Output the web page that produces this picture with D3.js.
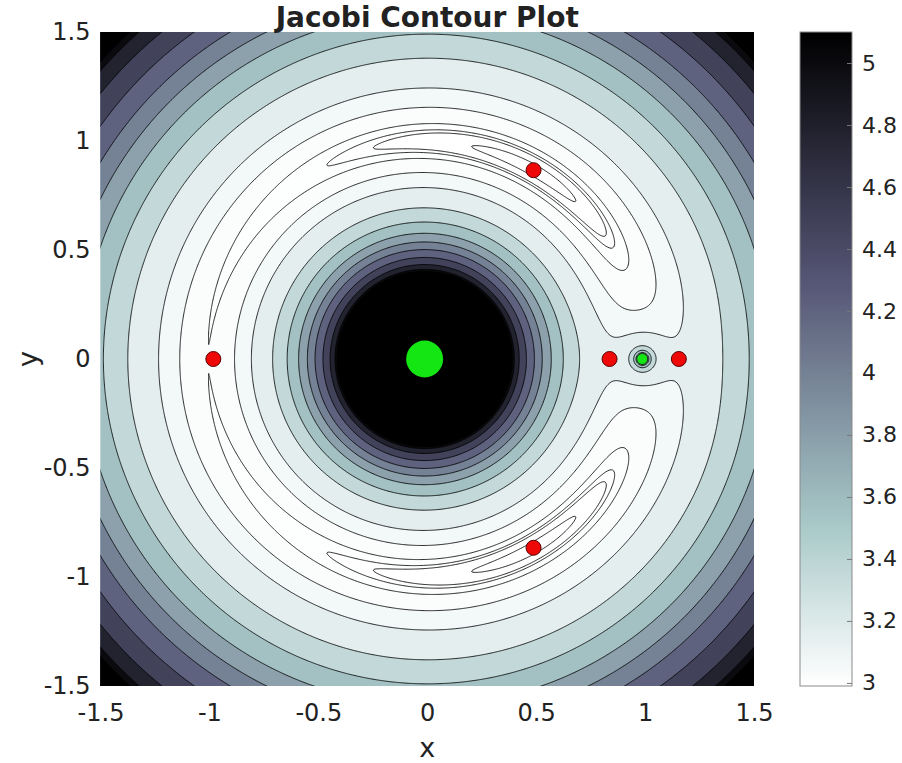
<!DOCTYPE html>
<html>
<head>
<meta charset="utf-8">
<script src="https://cdn.jsdelivr.net/npm/d3@7"></script>
<style>
  body { margin: 0; background: #fff; }
  svg text { font-family: "DejaVu Sans", sans-serif; fill: #222; }
</style>
</head>
<body>
<svg id="chart" width="902" height="763"></svg>
<script>
// Earth–Moon mass ratio of the circular restricted three-body problem
const mu = 0.01215;

// Contour levels of the Jacobi constant
const levels = [2.99, 2.997, 3.001, 3.0121, 3.06, 3.15, 3.35, 3.56, 3.78, 3.99, 4.21, 4.48, 4.77, 5.0, 5.1];

// Colour limits and colorbar ticks
const colorDomain = [2.99, 5.1];
const colorTicks = [3, 3.2, 3.4, 3.6, 3.8, 4, 4.2, 4.4, 4.6, 4.8, 5];

// Axis ticks
const xTicks = [-1.5, -1, -0.5, 0, 0.5, 1, 1.5];
const yTicks = [-1.5, -1, -0.5, 0, 0.5, 1, 1.5];

// Lagrange points (red markers)
const lagrangeNames = ["L1", "L2", "L3", "L4", "L5"];
const lagrangeX = [0.837, 1.155, -0.982, 0.488, 0.488];
const lagrangeY = [0, 0, 0, 0.866, -0.866];

// Primaries (green markers)
const bodyNames = ["Earth", "Moon"];
const bodyX = [-0.012, 0.987];
const bodyY = [0, 0];

// Layout
const plot = { left: 100.5, right: 754, top: 32, bottom: 686 };
const cbar = { left: 800, right: 852, top: 32, bottom: 686 };

const svg = d3.select("#chart");

const sx = d3.scaleLinear().domain([-1.5, 1.5]).range([plot.left, plot.right]);
const sy = d3.scaleLinear().domain([-1.5, 1.5]).range([plot.bottom, plot.top]);

// Reversed "bone" colormap: white at the low end, black at the high end
function bone(t) {
  const c = v => Math.max(0, Math.min(1, v));
  const r = (7 * t + c(4 * t - 3)) / 8;
  const g = (7 * t + c(8 * t / 3 - 1)) / 8;
  const b = (7 * t + c(8 * t / 3)) / 8;
  return d3.rgb(r * 255, g * 255, b * 255);
}
const norm = d3.scaleLinear().domain(colorDomain).range([1, 0]).clamp(true);
const color = v => bone(norm(v));

// Jacobi constant sampled on a grid a little wider than the axes
function jacobi(x, y) {
  const r1 = Math.hypot(x + mu, y);
  const r2 = Math.hypot(x - 1 + mu, y);
  return Math.min(50, x * x + y * y + 2 * (1 - mu) / r1 + 2 * mu / r2);
}
const n = 720, ext = 1.56, h = 2 * ext / n;
const values = new Float64Array(n * n);
for (let j = 0; j < n; j++) {
  const y = ext - (j + 0.5) * h;
  for (let i = 0; i < n; i++) {
    const x = -ext + (i + 0.5) * h;
    values[j * n + i] = jacobi(x, y);
  }
}
const contours = d3.contours().size([n, n]).thresholds(levels)(values);

const proj = d3.geoTransform({
  point(u, v) { this.stream.point(sx(-ext + u * h), sy(ext - v * h)); }
});
const path = d3.geoPath(proj);

svg.append("defs").append("clipPath").attr("id", "plotClip")
  .append("rect")
  .attr("x", plot.left).attr("y", plot.top)
  .attr("width", plot.right - plot.left).attr("height", plot.bottom - plot.top);

const field = svg.append("g").attr("clip-path", "url(#plotClip)");

field.append("rect")
  .attr("x", plot.left).attr("y", plot.top)
  .attr("width", plot.right - plot.left).attr("height", plot.bottom - plot.top)
  .attr("fill", "#ffffff");

field.append("g").selectAll("path")
  .data(contours)
  .join("path")
  .attr("d", path)
  .attr("fill", d => color(d.value))
  .attr("stroke", "none");

field.append("g").selectAll("path")
  .data(contours)
  .join("path")
  .attr("d", path)
  .attr("fill", "none")
  .attr("stroke", "#000")
  .attr("stroke-opacity", 0.85)
  .attr("stroke-width", 1)
  .attr("stroke-linejoin", "round");

// Markers
const markers = svg.append("g");
markers.selectAll("circle.body")
  .data(bodyNames)
  .join("circle")
  .attr("class", "body")
  .attr("cx", (d, i) => sx(bodyX[i]))
  .attr("cy", (d, i) => sy(bodyY[i]))
  .attr("r", (d, i) => i === 0 ? 18.5 : 5.5)
  .attr("fill", "#14e614")
  .attr("stroke", (d, i) => i === 0 ? "none" : "#1a3a1a")
  .attr("stroke-width", 1);

markers.selectAll("circle.lagrange")
  .data(lagrangeNames)
  .join("circle")
  .attr("class", "lagrange")
  .attr("cx", (d, i) => sx(lagrangeX[i]))
  .attr("cy", (d, i) => sy(lagrangeY[i]))
  .attr("r", 7.5)
  .attr("fill", "#ee0808")
  .attr("stroke", "#5a0000")
  .attr("stroke-width", 1);

// Axes
const fmt = d => String(d);
const xAxis = svg.append("g")
  .attr("transform", `translate(0,${plot.bottom})`)
  .call(d3.axisBottom(sx).tickValues(xTicks).tickFormat(fmt).tickSize(0).tickPadding(18));
xAxis.select(".domain").remove();
xAxis.selectAll("text").style("font-size", "24px").attr("fill", "#222");

const yAxis = svg.append("g")
  .attr("transform", `translate(${plot.left},0)`)
  .call(d3.axisLeft(sy).tickValues(yTicks).tickFormat(fmt).tickSize(0).tickPadding(10));
yAxis.select(".domain").remove();
yAxis.selectAll("text").style("font-size", "24px").attr("fill", "#222");

// Titles
svg.append("text")
  .attr("x", (plot.left + plot.right) / 2).attr("y", 27)
  .attr("text-anchor", "middle")
  .style("font-size", "28px").style("font-weight", "bold")
  .attr("fill", "#000")
  .text("Jacobi Contour Plot");

svg.append("text")
  .attr("x", (plot.left + plot.right) / 2).attr("y", 757)
  .attr("text-anchor", "middle")
  .style("font-size", "27px")
  .text("x");

svg.append("text")
  .attr("transform", `translate(37,${(plot.top + plot.bottom) / 2}) rotate(-90)`)
  .attr("text-anchor", "middle")
  .style("font-size", "27px")
  .text("y");

// Colorbar
const cs = d3.scaleLinear().domain(colorDomain).range([cbar.bottom, cbar.top]);
const grad = svg.select("defs").append("linearGradient")
  .attr("id", "cbarGrad")
  .attr("x1", 0).attr("y1", 1).attr("x2", 0).attr("y2", 0);
const steps = d3.range(0, 65).map(k => k / 64);
grad.selectAll("stop")
  .data(steps)
  .join("stop")
  .attr("offset", d => d)
  .attr("stop-color", d => color(colorDomain[0] + d * (colorDomain[1] - colorDomain[0])));

svg.append("rect")
  .attr("x", cbar.left).attr("y", cbar.top)
  .attr("width", cbar.right - cbar.left).attr("height", cbar.bottom - cbar.top)
  .attr("fill", "url(#cbarGrad)")
  .attr("stroke", "#8a8a8a").attr("stroke-width", 1);

const cAxis = svg.append("g")
  .attr("transform", `translate(${cbar.right},0)`)
  .call(d3.axisRight(cs).tickValues(colorTicks).tickFormat(fmt).tickSize(-5).tickPadding(10));
cAxis.select(".domain").remove();
cAxis.selectAll("line").attr("stroke", "#777");
cAxis.selectAll("text").style("font-size", "22px").attr("fill", "#222");
</script>
</body>
</html>
